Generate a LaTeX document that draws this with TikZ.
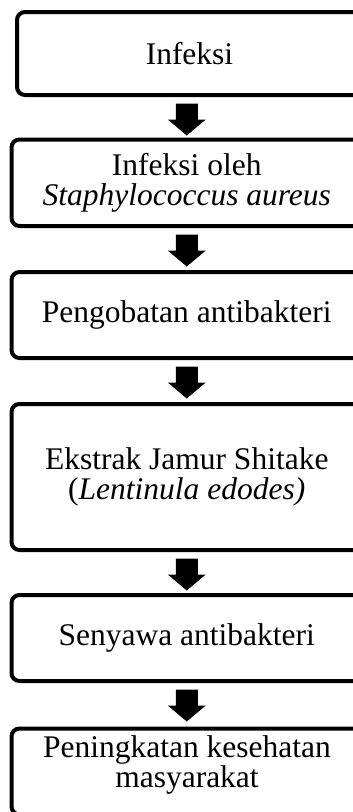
\documentclass[tikz,border=0pt]{standalone}
\usepackage{fontspec}
\setmainfont{Liberation Serif}
\newcommand\blkarr[2]{\fill (#1.south -| #2.north) ++(-11,6.5) -- ++(22,0) -- ++(0,16) -- ++(8,0) -- ++(-19,16) -- ++(-19,-16) -- ++(8,0) -- cycle;}
\begin{document}
\begin{tikzpicture}[x=1pt,y=-1pt,
  box/.style={draw,line width=4pt,rounded corners=8pt,align=center,inner sep=0pt,minimum width=350.5pt,font=\fontsize{31.5}{30}\selectfont},
  txt/.style={align=center,inner sep=0pt,font=\fontsize{31.5}{30}\selectfont}]
\path[use as bounding box,clip] (0,0) rectangle (353,812);
\node[box,minimum width=345pt,minimum height=83pt] (b1) at (189.5,53.5) {Infeksi};
\node[box,minimum height=86.5pt] (b2) at (186.75,182.75) {Infeksi oleh\\\textit{Staphylococcus aureus}};
\node[box,minimum height=86pt] (b3) at (186.75,315) {Pengobatan antibakteri};
\node[box,minimum height=146pt] (b4) at (186.75,477) {Ekstrak Jamur Shitake\\(\textit{Lentinula edodes)}};
\node[box,minimum height=86pt] (b5) at (186.75,638) {Senyawa antibakteri};
\node[box,minimum height=86pt] (b6) at (186.75,771.5) {};
\node[txt] (t6) at (187,765) {Peningkatan kesehatan\\masyarakat};
\blkarr{b1}{b2}
\blkarr{b2}{b3}
\blkarr{b3}{b4}
\blkarr{b4}{b5}
\blkarr{b5}{b6}
\end{tikzpicture}
\end{document}
